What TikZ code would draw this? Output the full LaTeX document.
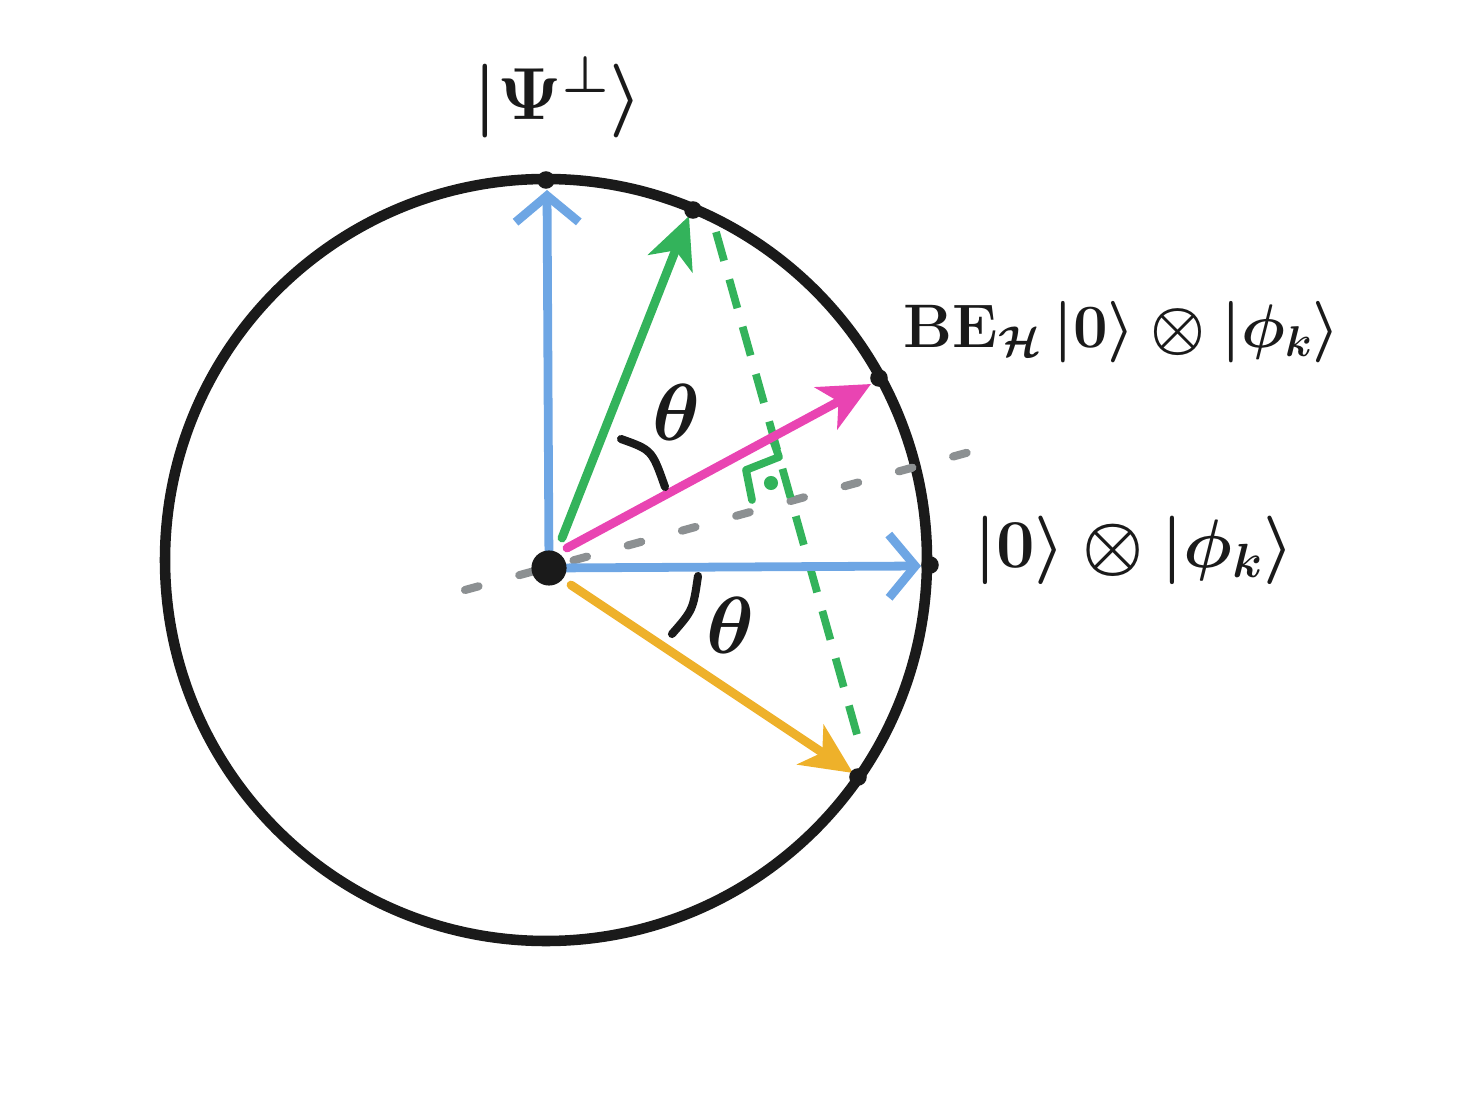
\RequirePackage{fix-cm}
\documentclass[tikz,border=0pt]{standalone}
\usetikzlibrary{arrows.meta}
\definecolor{cblue}{HTML}{6EA6E4}
\definecolor{cgreen}{HTML}{33B35B}
\definecolor{cpink}{HTML}{E944B2}
\definecolor{corange}{HTML}{EEB12A}
\definecolor{cgray}{HTML}{8C9092}
\definecolor{cink}{HTML}{1A1A1A}
\begin{document}
\begin{tikzpicture}[x=0.02cm,y=-0.02cm,
  dotpt/.style={circle,fill=cink,inner sep=0pt,minimum size=10pt},
  vecline/.style={line width=5pt,line cap=round},
  barbhead/.style={-{Straight Barb[length=15pt,width=36pt,line width=5pt]}},
  fillhead/.style={-{Stealth[length=29pt,width=27pt,inset=8pt]}},
  lbl/.style={text=cink,inner sep=0pt},
  anglemark/.style={draw=cink,line width=4.6pt,line cap=round}
]
\useasboundingbox (0,0) rectangle (1484,1094);
\coordinate (O) at (549,568);
% circle
\draw[cink,line width=6pt] (546,560) circle (381);
% gray dashed axis
\coordinate (g1) at (465,590);
\coordinate (g2) at (977,450);
\draw[cgray,line width=4.6pt,line cap=round,dash pattern=on 8pt off 24pt] (g1) -- (g2);
% green dashed reflection line
\coordinate (d1) at (716,232);
\coordinate (d2) at (858,738);
\draw[cgreen,line width=4.4pt,dash pattern=on 17pt off 11pt] (d1) -- (d2);
% right-angle mark
\coordinate (r1) at (773,440);
\coordinate (r4) at (752,500);
\draw[cgreen,line width=4.4pt,line cap=round,line join=round] (r1) -- (779,457) -- (746,470) -- (r4);
\node[circle,fill=cgreen,inner sep=0pt,minimum size=8pt] (rd) at (771,483) {};
% vectors
\draw[vecline,cblue,barbhead] (O) -- (547,190);
\draw[vecline,cblue,barbhead] (O) -- (921,566);
\draw[vecline,cgreen,fillhead] (562,538) -- (689,216);
\draw[vecline,cpink,fillhead] (567,548) -- (871,384);
\draw[vecline,corange,fillhead] (571,585) -- (853,773);
% points
\node[dotpt,minimum size=20pt] (Odot) at (O) {};
\node[dotpt] (pt) at (546,180) {};
\node[dotpt] (pg) at (693,210) {};
\node[dotpt] (pp) at (879,378) {};
\node[dotpt] (pr) at (930,565) {};
\node[dotpt] (po) at (858,777) {};
% angle arcs
\draw[anglemark] (621,439) .. controls (652,450) .. (665,487);
\draw[anglemark] (698,576) .. controls (693,610) .. (672,634);
\node[lbl,font=\fontsize{46}{50}\selectfont\boldmath] (th1) at (676,412) {$\theta$};
\node[lbl,font=\fontsize{46}{50}\selectfont\boldmath] (th2) at (730,625) {$\theta$};
% labels
\node[lbl,font=\fontsize{42}{48}\selectfont\boldmath] (lpsi) at (558,97) {$|\Psi^{\perp}\rangle$};
\node[lbl,font=\fontsize{35}{40}\selectfont\boldmath] (lbe) at (1122,332) {$\mathbf{BE}_{\mathcal{H}}\,|0\rangle\otimes|\phi_k\rangle$};
\node[lbl,font=\fontsize{39}{44}\selectfont\boldmath] (lzero) at (1134,550) {$|0\rangle\otimes|\phi_k\rangle$};
\end{tikzpicture}
\end{document}
